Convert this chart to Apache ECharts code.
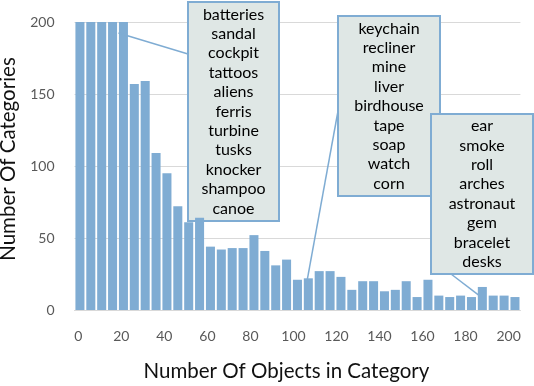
<!DOCTYPE html>
<html>
<head>
<meta charset="utf-8">
<script src="https://cdn.jsdelivr.net/npm/echarts@6/dist/echarts.min.js"></script>
<style>
  html, body { margin: 0; padding: 0; background: #fff; }
  #main { width: 534px; height: 386px; }
</style>
</head>
<body>
<div id="main"></div>
<script>
// bins of 5 objects per category
const bins = ["0", "5", "10", "15", "20", "25", "30", "35", "40", "45", "50", "55", "60", "65", "70",
  "75", "80", "85", "90", "95", "100", "105", "110", "115", "120", "125", "130", "135", "140",
  "145", "150", "155", "160", "165", "170", "175", "180", "185", "190", "195", "200"];
const counts = [200, 200, 200, 200, 200, 157, 159, 109, 95, 72, 61, 64, 44, 42, 43, 43, 52, 41, 31, 35,
  21, 22, 27, 27, 23, 14, 20, 20, 13, 14, 20, 9, 21, 10, 9, 10, 9, 16, 10, 10, 9];
const xTicks = [0, 20, 40, 60, 80, 100, 120, 140, 160, 180, 200];
const yTicks = [0, 50, 100, 150, 200];

// callout words and the bar each one points at
const words1 = ["batteries", "sandal", "cockpit", "tattoos", "aliens", "ferris", "turbine", "tusks", "knocker", "shampoo", "canoe"];
const words2 = ["keychain", "recliner", "mine", "liver", "birdhouse", "tape", "soap", "watch", "corn"];
const words3 = ["ear", "smoke", "roll", "arches", "astronaut", "gem", "bracelet", "desks"];
const calloutBars = [4, 21, 37];

const font = "Lato, 'Open Sans', sans-serif";
const blue = "#7FACD3";

const chart = echarts.init(document.getElementById("main"));

chart.setOption({
  animation: false,
  grid: { left: 74.5, right: 13.6, top: 22, bottom: 76, outerBoundsMode: "none", containLabel: false },
  xAxis: [
    {
      type: "category",
      data: bins,
      axisLabel: { show: false },
      axisTick: { show: false },
      axisLine: { lineStyle: { color: "#d9d9d9" } },
    },
    {
      // tick labels sit on their own value scale
      type: "value",
      position: "bottom",
      min: -1.77,
      max: 205.5,
      axisLine: { show: false },
      axisTick: { show: false },
      splitLine: { show: false },
      axisLabel: { customValues: xTicks, margin: 19, color: "#595959", fontSize: 14, fontFamily: font },
      name: "Number Of Objects in Category",
      nameLocation: "middle",
      nameGap: 51,
      nameTextStyle: { color: "#111", fontSize: 20.5, fontFamily: font, padding: [0, 22, 0, 0] },
    },
  ],
  yAxis: {
    type: "value",
    min: 0,
    max: 200,
    interval: 50,
    axisLine: { show: false },
    axisTick: { show: false },
    axisLabel: { customValues: yTicks, margin: 20, color: "#595959", fontSize: 14, fontFamily: font },
    splitLine: { lineStyle: { color: "#d9d9d9" } },
    name: "Number Of Categories",
    nameLocation: "middle",
    nameGap: 41,
    nameRotate: 90,
    nameTextStyle: { color: "#111", fontSize: 20.5, fontFamily: font, padding: [0, 0, 0, 14] },
  },
  series: [
    {
      type: "bar",
      data: counts,
      barCategoryGap: "17%",
      itemStyle: { color: blue },
    },
  ],
});

// boxes: [x, y, w, h], and where the leader line meets the box
const boxes = [
  { words: words1, rect: [188, 2, 91, 219], attach: [188, 54], off: [-5, 11], z: 30 },
  { words: words2, rect: [338, 16, 102, 180], attach: [338, 111], off: [-1, 1], z: 20 },
  { words: words3, rect: [431, 114, 102, 160], attach: [451, 274], off: [-4, 8], z: 10 },
];

const graphic = [];
boxes.forEach((b, i) => {
  const p = chart.convertToPixel({ seriesIndex: 0 }, [calloutBars[i], counts[calloutBars[i]]]);
  graphic.push({
    type: "line",
    z: 5,
    shape: { x1: p[0] + b.off[0], y1: p[1] + b.off[1], x2: b.attach[0], y2: b.attach[1] },
    style: { stroke: blue, lineWidth: 1.5 },
  });
  graphic.push({
    type: "group",
    z: b.z,
    children: [
      {
        type: "rect",
        shape: { x: b.rect[0], y: b.rect[1], width: b.rect[2], height: b.rect[3] },
        style: { fill: "#DFE7E5", stroke: blue, lineWidth: 2 },
      },
      {
        type: "text",
        x: b.rect[0] + b.rect[2] / 2,
        y: b.rect[1] + b.rect[3] / 2,
        style: {
          text: b.words.join("\n"),
          fill: "#000",
          font: "16px " + font,
          lineHeight: 19.4,
          align: "center",
          verticalAlign: "middle",
        },
      },
    ],
  });
});
chart.setOption({ graphic });
</script>
</body>
</html>
